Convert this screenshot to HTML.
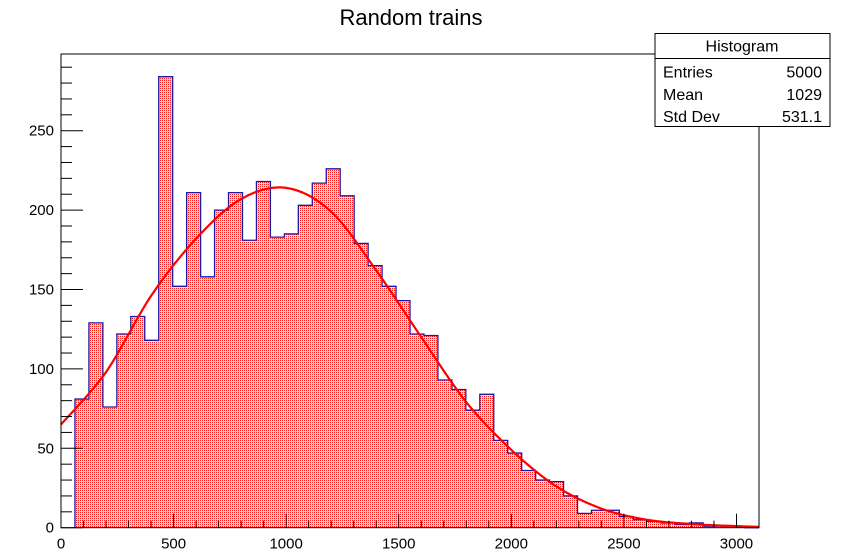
<!DOCTYPE html>
<html><head><meta charset="utf-8"><style>
html,body{margin:0;padding:0;background:#fff;}
svg{display:block;font-family:"Liberation Sans",Arial,sans-serif;}
</style></head><body>
<svg id="chart" width="842" height="557" viewBox="0 0 842 557">
<defs>
<pattern id="dots" width="2" height="2" patternUnits="userSpaceOnUse">
<rect width="2" height="2" fill="#fbdada"/>
<rect width="1" height="1" fill="#ff1a1a"/>
</pattern>
</defs>
<text x="411" y="25" font-size="22" text-anchor="middle" fill="#000">Random trains</text>
<g id="plot"></g>
<rect x="61" y="54" width="698" height="473.7" fill="none" stroke="#000" stroke-width="1"/>
<g>
<rect x="655" y="33.5" width="175" height="93" fill="#fff" stroke="#000" stroke-width="1"/>
<line x1="655" y1="58.5" x2="830" y2="58.5" stroke="#000"/>
<text x="742" y="51.5" font-size="16" text-anchor="middle">Histogram</text>
<text x="663" y="77.5" font-size="16">Entries</text>
<text x="822" y="77.5" font-size="16" text-anchor="end">5000</text>
<text x="663" y="100" font-size="16">Mean</text>
<text x="822" y="100" font-size="16" text-anchor="end">1029</text>
<text x="663" y="122" font-size="16">Std Dev</text>
<text x="822" y="122" font-size="16" text-anchor="end">531.1</text>
</g>
</svg>
<script>
const binCounts = [0,81,129,76,122,133,118,284,152,211,158,200,211,181,218,183,185,203,217,226,209,
179,165,152,143,122,121,93,87,74,84,55,47,36,30,29,20,9,11,11,7,5,4,3,2,3,1,1,1,0,0];
const binWidth = 62;
const xTickLabels = ["0","500","1000","1500","2000","2500","3000"];
const xTickValues = [0,500,1000,1500,2000,2500,3000];
const yTickLabels = ["0","50","100","150","200","250"];
const yTickValues = [0,50,100,150,200,250];
const fitX = [0,200,400,600,800,1000,1200,1400,1600,1800,2000,2200,2400,2600,2800,3000,3100];
const fitY = [65,98,146,182,207,214,199,162,120,79,49,26,12,5,2.3,1,0.5];

const X0=61,X1=759,Y0=527.7,Y1=54,XMAX=3100,YMAX=298.3;
const sx=v=>X0+(Math.min(v,XMAX)/XMAX)*(X1-X0);
const sy=v=>Y0-(v/YMAX)*(Y0-Y1);
const NS="http://www.w3.org/2000/svg";
const plot=document.getElementById('plot');
function mk(tag,attrs){const e=document.createElementNS(NS,tag);for(const k in attrs)e.setAttribute(k,attrs[k]);return e;}

binCounts.forEach((c,i)=>{
  if(c<=0||i*binWidth>=XMAX)return;
  const r=mk('rect',{x:sx(i*binWidth),y:sy(c),width:sx((i+1)*binWidth)-sx(i*binWidth),height:Y0-sy(c),fill:'url(#dots)'});
  
  
  plot.appendChild(r);
});
let d='';let started=false;
binCounts.forEach((c,i)=>{
  if(i*binWidth>=XMAX)return;
  const xa=sx(i*binWidth),xb=sx((i+1)*binWidth);
  if(!started){ if(c<=0)return; d+=`M${xa},${Y0}`;started=true;}
  d+=`L${xa},${sy(c)}L${xb},${sy(c)}`;
});
const outline=mk('path',{d:d,fill:'none',stroke:'#1a1aa6','stroke-width':1.3});


plot.appendChild(outline);

const pts=fitX.map((x,i)=>[sx(x),sy(fitY[i])]);
let fd=`M${pts[0][0]},${pts[0][1]}`;
for(let i=0;i<pts.length-1;i++){
  const p0=pts[Math.max(0,i-1)],p1=pts[i],p2=pts[i+1],p3=pts[Math.min(pts.length-1,i+2)];
  fd+=`C${p1[0]+(p2[0]-p0[0])/6},${p1[1]+(p2[1]-p0[1])/6} ${p2[0]-(p3[0]-p1[0])/6},${p2[1]-(p3[1]-p1[1])/6} ${p2[0]},${p2[1]}`;
}
const fit=mk('path',{d:fd,fill:'none',stroke:'#ff0000','stroke-width':2.2});


plot.appendChild(fit);

for(let v=0;v<=YMAX;v+=10){
  const major=v%50===0;
  const t=mk('line',{x1:X0,x2:X0+(major?22:11),y1:sy(v),y2:sy(v),stroke:'#000','stroke-width':1});
  
  
  plot.appendChild(t);
}
yTickValues.forEach((v,i)=>{
  const t=mk('text',{x:X0-7,y:sy(v)+5,'font-size':15,'text-anchor':'end',fill:'#000'});
  t.textContent=yTickLabels[i];
  
  
  plot.appendChild(t);
});
for(let v=0;v<=XMAX;v+=100){
  const major=v%500===0;
  const t=mk('line',{x1:sx(v),x2:sx(v),y1:Y0,y2:Y0-(major?14:7),stroke:'#000','stroke-width':1});
  
  
  plot.appendChild(t);
}
xTickValues.forEach((v,i)=>{
  const t=mk('text',{x:sx(v),y:Y0+21,'font-size':15,'text-anchor':'middle',fill:'#000'});
  t.textContent=xTickLabels[i];
  
  
  plot.appendChild(t);
});
</script>
</body></html>
